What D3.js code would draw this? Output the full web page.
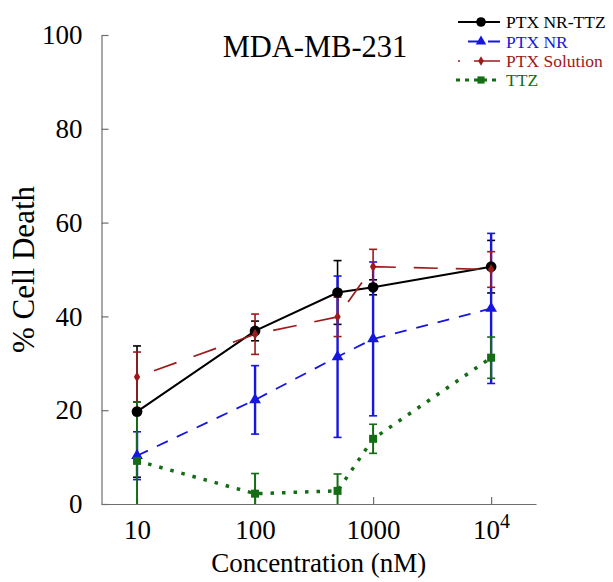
<!DOCTYPE html>
<html>
<head>
<meta charset="utf-8">
<script src="https://cdn.jsdelivr.net/npm/d3@7/dist/d3.min.js"></script>
<style>
  html, body { margin: 0; padding: 0; background: #fff; }
  svg { display: block; }
  svg text { font-family: "Liberation Serif", "Times New Roman", serif !important; }
</style>
</head>
<body>
<svg id="chart" width="613" height="582"></svg>
<script>
// Concentrations (nM) and % cell death (mean ± error) per formulation
const concentrations = [10, 100, 500, 1000, 10000];

const nrTtzMean = [19.7, 36.9, 45.1, 46.2, 50.6];
const nrTtzErr  = [14.0, 2.1, 6.8, 1.6, 5.6];

const ptxNrMean = [10.3, 22.2, 31.4, 35.2, 41.7];
const ptxNrErr  = [5.1, 7.3, 17.2, 16.4, 16.0];

const ptxSolMean = [27.1, 36.2, 39.9, 50.6, 50.0];
const ptxSolErr  = [5.3, 4.3, 4.2, 3.7, 3.8];

const ttzMean = [9.2, 2.2, 2.8, 13.9, 31.2];
const ttzErr  = [12.5, 4.3, 3.6, 3.1, 4.4];

const seriesNames = ["PTX NR-TTZ", "PTX NR", "PTX Solution", "TTZ"];
const yTicks = [0, 20, 40, 60, 80, 100];
const xTicks = [10, 100, 1000, 10000];
const xDomain = [5, 24000];
const yDomain = [0, 100];

const FONT = "Liberation Serif, Times New Roman, serif";
const svg = d3.select("#chart");

const x = d3.scaleLog().domain(xDomain).range([101.5, 536]);
const y = d3.scaleLinear().domain(yDomain).range([504, 35]);

const axisColor = "#6e6e6e";

// Series styling
const series = [
  { name: seriesNames[0], mean: nrTtzMean, err: nrTtzErr, color: "#000000",
    width: 2, dash: null, offset: 0, barWidth: 1.6, marker: "circle" },
  { name: seriesNames[1], mean: ptxNrMean, err: ptxNrErr, color: "#1616e0",
    width: 1.8, dash: "12,10", offset: 0, barWidth: 2.4, marker: "triangle" },
  { name: seriesNames[2], mean: ptxSolMean, err: ptxSolErr, color: "#9e1a1a",
    width: 1.7, dash: "24,18", offset: 24, barWidth: 1.6, marker: "diamond" },
  { name: seriesNames[3], mean: ttzMean, err: ttzErr, color: "#146c14",
    width: 3.5, dash: "3.5,8", offset: 0, barWidth: 2, marker: "square" }
];

function markerPath(type, size) {
  const symbols = {
    circle: d3.symbolCircle,
    triangle: d3.symbolTriangle,
    diamond: d3.symbolDiamond,
    square: d3.symbolSquare
  };
  return d3.symbol().type(symbols[type]).size(size)();
}
const markerSize = { circle: 90, triangle: 60, diamond: 34, square: 64 };

// Axes
const xAxis = d3.axisBottom(x)
  .tickValues(xTicks)
  .tickSizeInner(-7)
  .tickSizeOuter(0)
  .tickPadding(16)
  .tickFormat(() => "");

const gx = svg.append("g")
  .attr("transform", `translate(0,${y(0)})`)
  .call(xAxis)
  .attr("font-family", FONT);

gx.selectAll("text").each(function(d) {
  const t = d3.select(this)
    .attr("fill", "#000")
    .style("font-family", FONT)
    .style("font-size", "27px");
  if (d >= 10000) {
    const exp = Math.round(Math.log10(d));
    t.append("tspan").text("10");
    t.append("tspan").attr("dy", "-0.55em").style("font-size", "20px").text(exp);
  } else {
    t.text(d);
  }
});

const yAxis = d3.axisLeft(y)
  .tickValues(yTicks)
  .tickSizeInner(-7)
  .tickSizeOuter(0)
  .tickPadding(19)
  .tickFormat(d3.format("d"));

const gy = svg.append("g")
  .attr("transform", `translate(${x(xDomain[0])},0)`)
  .call(yAxis)
  .attr("font-family", FONT);

gy.selectAll("text").attr("fill", "#000")
  .style("font-family", FONT)
  .style("font-size", "27px");

svg.selectAll(".domain, .tick line").attr("stroke", axisColor).attr("stroke-width", 1.2);

// Axis titles and chart title
svg.append("text")
  .attr("x", (x.range()[0] + x.range()[1]) / 2)
  .attr("y", 572)
  .attr("text-anchor", "middle")
  .style("font-family", FONT)
  .style("font-size", "27px")
  .text("Concentration (nM)");

svg.append("text")
  .attr("transform", `translate(34,${(y(0) + y(100)) / 2}) rotate(-90)`)
  .attr("text-anchor", "middle")
  .style("font-family", FONT)
  .style("font-size", "31px")
  .text("% Cell Death");

svg.append("text")
  .attr("x", 315)
  .attr("y", 57)
  .attr("text-anchor", "middle")
  .style("font-family", FONT)
  .style("font-size", "30.5px")
  .text("MDA-MB-231");

// Error bars (drawn first, in series order)
const capHalf = 4;
const drawOrder = [0, 1, 2, 3];
const barsLayer = svg.append("g");
drawOrder.forEach(i => {
  const s = series[i];
  const g = barsLayer.append("g").attr("stroke", s.color).attr("stroke-width", s.barWidth);
  concentrations.forEach((c, j) => {
    const lo = s.mean[j] - s.err[j];
    const hi = s.mean[j] + s.err[j];
    const cx = x(c);
    const yLo = y(Math.max(lo, yDomain[0]));
    const yHi = y(Math.min(hi, yDomain[1]));
    g.append("line").attr("x1", cx).attr("x2", cx).attr("y1", yLo).attr("y2", yHi);
    g.append("line").attr("x1", cx - capHalf).attr("x2", cx + capHalf)
      .attr("y1", yHi).attr("y2", yHi).attr("stroke-width", 1.6);
    if (lo >= yDomain[0]) {
      g.append("line").attr("x1", cx - capHalf).attr("x2", cx + capHalf)
        .attr("y1", yLo).attr("y2", yLo).attr("stroke-width", 1.6);
    }
  });
});

// Connecting lines
const line = d3.line().x(d => x(d[0])).y(d => y(d[1]));
const linesLayer = svg.append("g");
drawOrder.forEach(i => {
  const s = series[i];
  const pts = concentrations.map((c, j) => [c, s.mean[j]]);
  linesLayer.append("path")
    .attr("d", line(pts))
    .attr("fill", "none")
    .attr("stroke", s.color)
    .attr("stroke-width", s.width)
    .attr("stroke-dasharray", s.dash)
    .attr("stroke-dashoffset", s.offset);
});

// Markers
const markersLayer = svg.append("g");
drawOrder.forEach(i => {
  const s = series[i];
  markersLayer.append("g").selectAll("path")
    .data(concentrations.map((c, j) => [c, s.mean[j]]))
    .join("path")
    .attr("d", markerPath(s.marker, markerSize[s.marker]))
    .attr("transform", d => `translate(${x(d[0])},${y(d[1])})`)
    .attr("fill", s.color);
});

// Legend
const legend = svg.append("g");
const legendRows = [22, 41.5, 61, 80];
const legendSamples = [
  { x1: 458, x2: 500, dash: null, w: 1.8 },
  { x1: 468, x2: 500, dash: "10,10,12", w: 1.8 },
  { x1: 458, x2: 500, dash: "2,14,30", w: 1.6 },
  { x1: 456, x2: 500, dash: "4,5", w: 3 }
];
series.forEach((s, i) => {
  const ry = legendRows[i];
  const smp = legendSamples[i];
  legend.append("line")
    .attr("x1", smp.x1).attr("x2", smp.x2)
    .attr("y1", ry).attr("y2", ry)
    .attr("stroke", s.color)
    .attr("stroke-width", smp.w)
    .attr("stroke-dasharray", smp.dash);
  legend.append("path")
    .attr("d", markerPath(s.marker, markerSize[s.marker] * 0.8))
    .attr("transform", `translate(481,${ry})`)
    .attr("fill", s.color);
  legend.append("text")
    .attr("x", 506)
    .attr("y", ry + 6)
    .attr("fill", s.color)
    .style("font-family", FONT)
    .style("font-size", "17.5px")
    .text(s.name);
});
</script>
</body>
</html>
